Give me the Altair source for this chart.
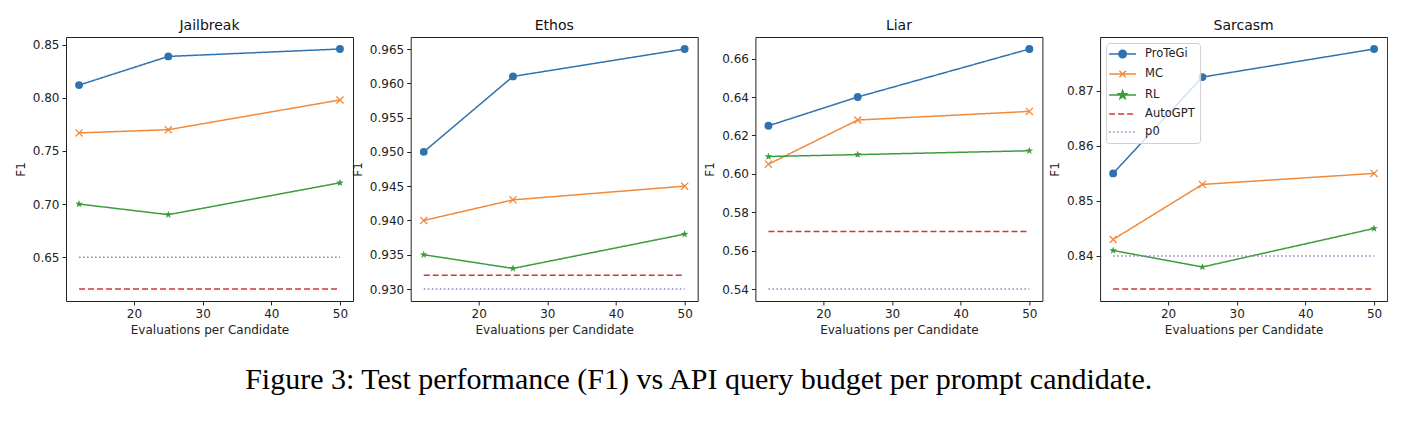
import math
import altair as alt
import pandas as pd

budgets = [12, 25, 50]
datasets = ["Jailbreak", "Ethos", "Liar", "Sarcasm"]
methods = ["ProTeGi", "MC", "RL", "AutoGPT", "p0"]
method_colors = ["#2f72b0", "#f28a3a", "#3c9c3c", "#d0373a", "#9b78c4"]

protegi = {"Jailbreak": [0.812, 0.839, 0.846], "Ethos": [0.950, 0.961, 0.965],
           "Liar": [0.625, 0.640, 0.665], "Sarcasm": [0.855, 0.8725, 0.8776]}
mc = {"Jailbreak": [0.767, 0.770, 0.798], "Ethos": [0.940, 0.943, 0.945],
      "Liar": [0.605, 0.628, 0.6325], "Sarcasm": [0.843, 0.853, 0.855]}
rl = {"Jailbreak": [0.700, 0.690, 0.720], "Ethos": [0.935, 0.933, 0.938],
      "Liar": [0.609, 0.610, 0.612], "Sarcasm": [0.841, 0.838, 0.845]}
autogpt = {"Jailbreak": 0.620, "Ethos": 0.932, "Liar": 0.570, "Sarcasm": 0.834}
p0 = {"Jailbreak": 0.650, "Ethos": 0.930, "Liar": 0.540, "Sarcasm": 0.840}

y_ticks = {"Jailbreak": [0.65, 0.70, 0.75, 0.80, 0.85],
           "Ethos": [0.930, 0.935, 0.940, 0.945, 0.950, 0.955, 0.960, 0.965],
           "Liar": [0.54, 0.56, 0.58, 0.60, 0.62, 0.64, 0.66],
           "Sarcasm": [0.84, 0.85, 0.86, 0.87]}
y_formats = {"Jailbreak": ".2f", "Ethos": ".3f", "Liar": ".2f", "Sarcasm": ".2f"}
x_ticks = [20, 30, 40, 50]
x_title = "Evaluations per Candidate"
y_title = "F1"
caption = "Figure 3: Test performance (F1) vs API query budget per prompt candidate."

rows = []
for ds in datasets:
    series = [("ProTeGi", protegi[ds]), ("MC", mc[ds]), ("RL", rl[ds]),
              ("AutoGPT", [autogpt[ds]] * len(budgets)), ("p0", [p0[ds]] * len(budgets))]
    for m, vals in series:
        for b, v in zip(budgets, vals):
            rows.append({"dataset": ds, "method": m, "budget": b, "f1": v})
df = pd.DataFrame(rows)


# ---- marker shapes (styling) ----
def star_path(cx, r_out, r_in):
    pts = []
    for k in range(10):
        ang = math.radians(-90 + 36 * k)
        r = r_out if k % 2 == 0 else r_in
        pts.append((cx + r * math.cos(ang), r * math.sin(ang)))
    return "M " + " L ".join(f"{px:.3f} {py:.3f}" for px, py in pts) + " Z"


def seg(a, b):
    return f"M {a:.2f} 0 L {b:.2f} 0"


L0, L1, CX = -1.6, 3.8, 1.1
leg_line = seg(L0, L1)
leg_circle = leg_line + f" M {CX + 0.75:.2f} 0 A 0.75 0.75 0 1 1 {CX - 0.75:.2f} 0 A 0.75 0.75 0 1 1 {CX + 0.75:.2f} 0 Z"
leg_x = leg_line + f" M {CX - 0.65:.2f} -0.65 L {CX + 0.65:.2f} 0.65 M {CX - 0.65:.2f} 0.65 L {CX + 0.65:.2f} -0.65"
leg_star = leg_line + " " + star_path(CX, 0.85, 0.35)
dash_parts = []
a = L0
while a < L1:
    dash_parts.append(seg(a, min(a + 1.2, L1)))
    a += 1.8
leg_dash = " ".join(dash_parts)
dot_parts = []
a = L0
while a < L1:
    dot_parts.append(seg(a, min(a + 0.3, L1)))
    a += 0.8
leg_dot = " ".join(dot_parts)
legend_shapes = [leg_circle, leg_x, leg_star, leg_dash, leg_dot]

x_mark = "M -1 -1 L 1 1 M -1 1 L 1 -1"
star_mark = star_path(0, 1, 0.4)
dashes = [[1, 0], [1, 0], [1, 0], [6, 3], [1.5, 2.5]]


def panel(ds, with_legend):
    d = df[df.dataset == ds]
    lo, hi = d.f1.min(), d.f1.max()
    ym = (hi - lo) * 0.05
    xm = (max(budgets) - min(budgets)) * 0.05
    xs = alt.Scale(domain=[min(budgets) - xm, max(budgets) + xm], nice=False, zero=False)
    ys = alt.Scale(domain=[lo - ym, hi + ym], nice=False, zero=False)
    x = alt.X("budget:Q", scale=xs, axis=alt.Axis(values=x_ticks, format="d", title=x_title))
    y = alt.Y("f1:Q", scale=ys, axis=alt.Axis(values=y_ticks[ds], format=y_formats[ds], title=y_title))
    color = alt.Color("method:N", scale=alt.Scale(domain=methods, range=method_colors), legend=None)
    dash = alt.StrokeDash("method:N", scale=alt.Scale(domain=methods, range=dashes), legend=None)
    base = alt.Chart(d)
    lines = base.mark_line(strokeWidth=1.5).encode(x=x, y=y, color=color, strokeDash=dash, order="budget:Q")
    circles = base.transform_filter(alt.datum.method == "ProTeGi").mark_point(
        shape="circle", filled=True, size=62, opacity=1).encode(x=x, y=y, color=color)
    crosses = base.transform_filter(alt.datum.method == "MC").mark_point(
        shape=x_mark, filled=False, size=50, strokeWidth=1.3, opacity=1).encode(x=x, y=y, color=color)
    stars = base.transform_filter(alt.datum.method == "RL").mark_point(
        shape=star_mark, filled=True, size=65, opacity=1).encode(x=x, y=y, color=color)
    layers = [lines, circles, crosses, stars]
    if with_legend:
        lg = alt.Legend(title=None, orient="top-left")
        leg = base.transform_filter(alt.datum.budget == budgets[0]).mark_point(opacity=0).encode(
            x=x, y=y,
            fill=alt.Fill("method:N", scale=alt.Scale(domain=methods, range=method_colors), legend=lg),
            stroke=alt.Stroke("method:N", scale=alt.Scale(domain=methods, range=method_colors), legend=lg),
            shape=alt.Shape("method:N", scale=alt.Scale(domain=methods, range=legend_shapes), legend=lg),
        )
        layers.append(leg)
    return alt.layer(*layers).properties(
        width=287, height=264,
        title=alt.TitleParams(ds, font="DejaVu Sans", fontSize=14, fontWeight="normal",
                              color="#111", offset=4),
    )


panels = [panel(ds, ds == "Sarcasm") for ds in datasets]

chart = alt.hconcat(*panels, spacing=57.7, bounds="flush").resolve_scale(
    fill="independent", stroke="independent", shape="independent"
).resolve_legend(
    fill="independent", stroke="independent", shape="independent"
).properties(
    title=alt.TitleParams(caption, orient="bottom", anchor="middle", font="Liberation Serif",
                          fontSize=30, fontWeight="normal", color="black", offset=29, dx=-2),
    padding={"left": 5, "top": 10, "right": 0, "bottom": 0},
).configure_view(
    stroke="#222", strokeWidth=1
).configure_axis(
    domain=False, grid=False, tickColor="#222", tickSize=4, tickWidth=1,
    labelFont="DejaVu Sans", labelFontSize=12, labelColor="#222", labelPadding=3,
    titleFont="DejaVu Sans", titleFontSize=12, titleFontWeight="normal", titleColor="#222",
    titlePadding=5,
).configure_legend(
    padding=5, rowPadding=6, labelOffset=22, symbolSize=100, symbolStrokeWidth=1.5,
    labelFont="DejaVu Sans", labelFontSize=11.5, labelColor="#222", offset=6,
    strokeColor="#d0d0d0", fillColor="rgba(255,255,255,0.8)", cornerRadius=3,
    symbolOpacity=1, symbolFillColor="#000", symbolStrokeColor="#000",
)

chart.save("out.html", embed_options={"renderer": "svg", "actions": False})
